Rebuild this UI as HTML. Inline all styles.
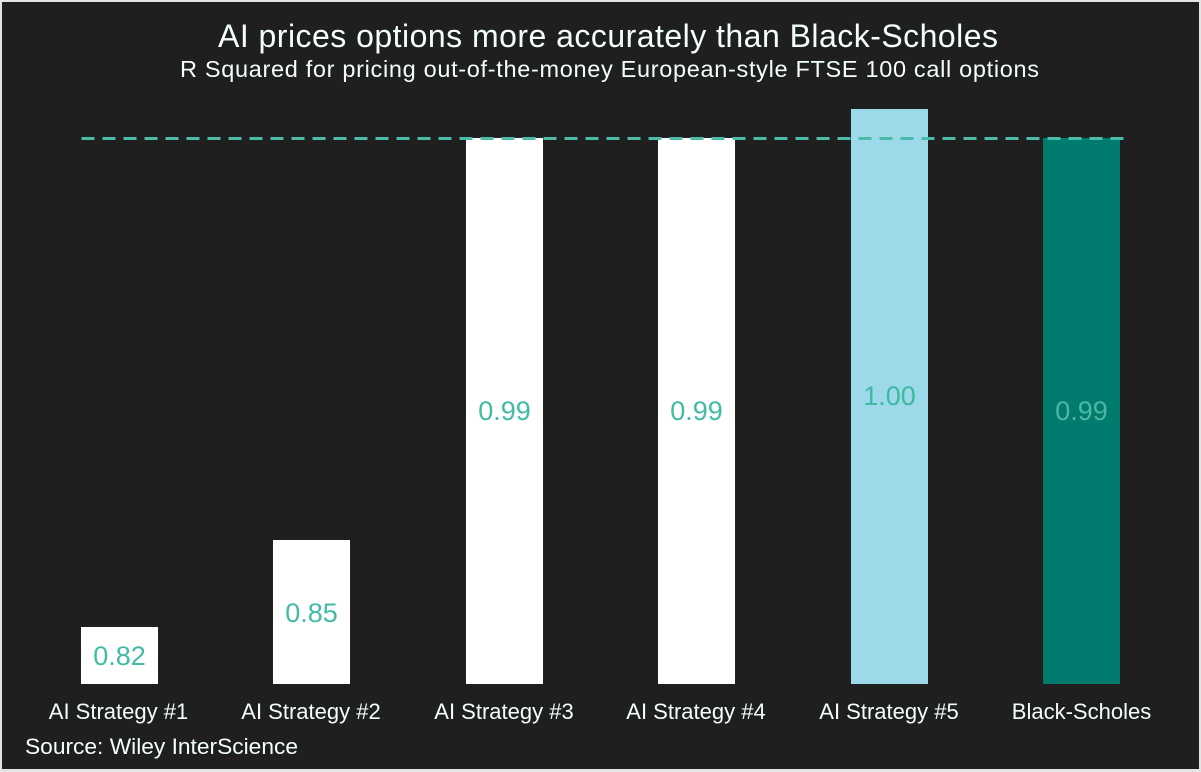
<!DOCTYPE html>
<html>
<head>
<meta charset="utf-8">
<style>
  html, body { margin:0; padding:0; }
  body { width:1201px; height:772px; background:#e4e4e4; overflow:hidden; }
  svg { display:block; }
  text { font-family: "Liberation Sans", Arial, sans-serif; }
</style>
</head>
<body>
<svg width="1201" height="772" viewBox="0 0 1201 772" xmlns="http://www.w3.org/2000/svg">
  <rect x="0" y="0" width="1201" height="772" fill="#e4e4e4"/>
  <rect x="2" y="2" width="1197" height="767" fill="#1f1f1f"/>

  <!-- Title -->
  <text x="608" y="47" font-size="32" fill="#f2fffd" text-anchor="middle" textLength="780" lengthAdjust="spacing">AI prices options more accurately than Black-Scholes</text>
  <text x="609.5" y="77" font-size="23.5" fill="#f2fffd" text-anchor="middle" textLength="859" lengthAdjust="spacing">R Squared for pricing out-of-the-money European-style FTSE 100 call options</text>

  <!-- Bars -->
  <rect x="81" y="627" width="77" height="57" fill="#ffffff"/>
  <rect x="273" y="540" width="77" height="144" fill="#ffffff"/>
  <rect x="466" y="138" width="77" height="546" fill="#ffffff"/>
  <rect x="658" y="138" width="77" height="546" fill="#ffffff"/>
  <rect x="851" y="109" width="77" height="575" fill="#9cd9e9"/>
  <rect x="1043" y="138" width="77" height="546" fill="#007b6e"/>

  <!-- Dashed reference line -->
  <line x1="81.5" y1="138.5" x2="1124" y2="138.5" stroke="#4bbca9" stroke-width="3" stroke-dasharray="13 8"/>

  <!-- Value labels -->
  <g font-size="27" text-anchor="middle">
    <text x="119.5" y="665" fill="#40bba5">0.82</text>
    <text x="311.5" y="622" fill="#40bba5">0.85</text>
    <text x="504.5" y="420" fill="#40bba5">0.99</text>
    <text x="696.5" y="420" fill="#40bba5">0.99</text>
    <text x="889.5" y="405" fill="#3cb9a0">1.00</text>
    <text x="1081.5" y="420" fill="#4cb8a2">0.99</text>
  </g>

  <!-- Category labels -->
  <g font-size="22" fill="#f2fffd" text-anchor="middle">
    <text x="118.5" y="719">AI Strategy #1</text>
    <text x="311" y="719">AI Strategy #2</text>
    <text x="504" y="719">AI Strategy #3</text>
    <text x="696" y="719">AI Strategy #4</text>
    <text x="889" y="719">AI Strategy #5</text>
    <text x="1081.5" y="719">Black-Scholes</text>
  </g>

  <!-- Source -->
  <text x="25" y="754" font-size="22" fill="#f2fffd" textLength="273" lengthAdjust="spacingAndGlyphs">Source: Wiley InterScience</text>
</svg>
</body>
</html>
